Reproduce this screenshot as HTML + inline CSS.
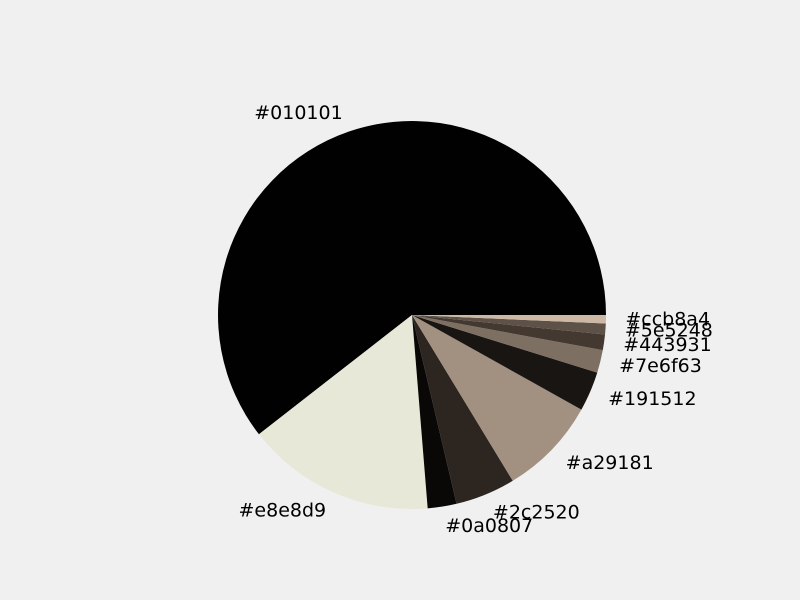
<!DOCTYPE html>
<html><head><meta charset="utf-8"><style>
body{margin:0;background:#f0f0f0;}
svg{display:block;font-family:"DejaVu Sans","Liberation Sans",sans-serif;}
</style></head><body>
<svg id="chart" width="800" height="600" viewBox="0 0 800 600">
<rect width="800" height="600" fill="#f0f0f0"/>
<g id="slices"></g><g id="labels"></g>
</svg>
<script>
const categories = ["#010101","#e8e8d9","#0a0807","#2c2520","#a29181","#191512","#7e6f63","#443931","#5e5248","#ccb8a4"];
const values = [60.5,15.75,2.4,5.0,8.2,3.3,1.9,1.3,0.9,0.7];
const colors = ["#010101","#e8e8d9","#0a0807","#2c2520","#a29181","#191512","#7e6f63","#443931","#5e5248","#ccb8a4"];
const cx=412, cy=315, R=194;
const NS="http://www.w3.org/2000/svg";
const total=values.reduce((a,b)=>a+b,0);
const gs=document.getElementById('slices'), gl=document.getElementById('labels');
let a0=0;
function pt(a,r){return [cx+r*Math.cos(a*Math.PI/180), cy-r*Math.sin(a*Math.PI/180)];}
values.forEach((v,i)=>{
  const span=v/total*360, a1=a0+span;
  const p0=pt(a0,R), p1=pt(a1,R);
  const path=document.createElementNS(NS,'path');
  path.setAttribute('d',`M${cx},${cy} L${p0[0]},${p0[1]} A${R},${R} 0 ${span>180?1:0} 0 ${p1[0]},${p1[1]} Z`);
  path.setAttribute('fill',colors[i]);
  
  
  gs.appendChild(path);
  const mid=(a0+a1)/2, lp=pt(mid,R*1.1);
  const t=document.createElementNS(NS,'text');
  t.setAttribute('x',lp[0]); t.setAttribute('y',lp[1]);
  t.setAttribute('font-size','19');
  t.setAttribute('dominant-baseline','central');
  t.setAttribute('text-anchor',Math.cos(mid*Math.PI/180)>=0?'start':'end');
  t.textContent=categories[i];
  
  
  gl.appendChild(t);
  a0=a1;
});
</script>
</body></html>
